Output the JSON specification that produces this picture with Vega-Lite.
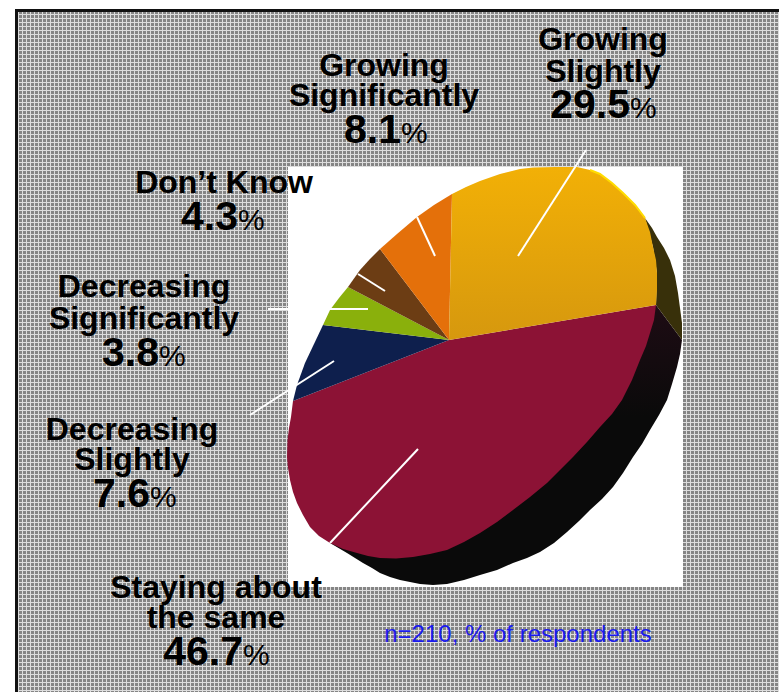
{
"$schema":"https://vega.github.io/schema/vega-lite/v6.json",
"width":779,"height":692,"padding":0,"autosize":{"type":"none"},
"background":"#ffffff",
"view":{"fill":"#858585","stroke":null},
"datasets":{
"columns":[18.5,22.5,26.5,30.5,34.5,38.5,42.5,46.5,50.5,54.5,58.5,62.5,66.5,70.5,74.5,78.5,82.5,86.5,90.5,94.5,98.5,102.5,106.5,110.5,114.5,118.5,122.5,126.5,130.5,134.5,138.5,142.5,146.5,150.5,154.5,158.5,162.5,166.5,170.5,174.5,178.5,182.5,186.5,190.5,194.5,198.5,202.5,206.5,210.5,214.5,218.5,222.5,226.5,230.5,234.5,238.5,242.5,246.5,250.5,254.5,258.5,262.5,266.5,270.5,274.5,278.5,282.5,286.5,290.5,294.5,298.5,302.5,306.5,310.5,314.5,318.5,322.5,326.5,330.5,334.5,338.5,342.5,346.5,350.5,354.5,358.5,362.5,366.5,370.5,374.5,378.5,382.5,386.5,390.5,394.5,398.5,402.5,406.5,410.5,414.5,418.5,422.5,426.5,430.5,434.5,438.5,442.5,446.5,450.5,454.5,458.5,462.5,466.5,470.5,474.5,478.5,482.5,486.5,490.5,494.5,498.5,502.5,506.5,510.5,514.5,518.5,522.5,526.5,530.5,534.5,538.5,542.5,546.5,550.5,554.5,558.5,562.5,566.5,570.5,574.5,578.5,582.5,586.5,590.5,594.5,598.5,602.5,606.5,610.5,614.5,618.5,622.5,626.5,630.5,634.5,638.5,642.5,646.5,650.5,654.5,658.5,662.5,666.5,670.5,674.5,678.5,682.5,686.5,690.5,694.5,698.5,702.5,706.5,710.5,714.5,718.5,722.5,726.5,730.5,734.5,738.5,742.5,746.5,750.5,754.5,758.5,762.5,766.5,770.5,774.5,778.5],
"rows":[14.5,18.5,22.5,26.5,30.5,34.5,38.5,42.5,46.5,50.5,54.5,58.5,62.5,66.5,70.5,74.5,78.5,82.5,86.5,90.5,94.5,98.5,102.5,106.5,110.5,114.5,118.5,122.5,126.5,130.5,134.5,138.5,142.5,146.5,150.5,154.5,158.5,162.5,166.5,170.5,174.5,178.5,182.5,186.5,190.5,194.5,198.5,202.5,206.5,210.5,214.5,218.5,222.5,226.5,230.5,234.5,238.5,242.5,246.5,250.5,254.5,258.5,262.5,266.5,270.5,274.5,278.5,282.5,286.5,290.5,294.5,298.5,302.5,306.5,310.5,314.5,318.5,322.5,326.5,330.5,334.5,338.5,342.5,346.5,350.5,354.5,358.5,362.5,366.5,370.5,374.5,378.5,382.5,386.5,390.5,394.5,398.5,402.5,406.5,410.5,414.5,418.5,422.5,426.5,430.5,434.5,438.5,442.5,446.5,450.5,454.5,458.5,462.5,466.5,470.5,474.5,478.5,482.5,486.5,490.5,494.5,498.5,502.5,506.5,510.5,514.5,518.5,522.5,526.5,530.5,534.5,538.5,542.5,546.5,550.5,554.5,558.5,562.5,566.5,570.5,574.5,578.5,582.5,586.5,590.5,594.5,598.5,602.5,606.5,610.5,614.5,618.5,622.5,626.5,630.5,634.5,638.5,642.5,646.5,650.5,654.5,658.5,662.5,666.5,670.5,674.5,678.5,682.5,686.5,690.5],
"whites":[
{"name":"margin-left","x":0,"x2":15,"y":0,"y2":692},
{"name":"margin-top","x":0,"x2":779,"y":0,"y2":9},
{"name":"plot-card","x":288,"x2":683,"y":167,"y2":587}
],
"frame":[
{"name":"frame-left","x":15,"x2":18,"y":9,"y2":692},
{"name":"frame-top","x":15,"x2":779,"y":9,"y2":12}
],
"rim":{"type":"FeatureCollection","features":[
{"type":"Feature","properties":{"part":"lower rim"},"geometry":{"type":"Polygon","coordinates":[[[656,305],[682,340],[680,354],[677,367],[672,384],[667,400],[659,415],[650,430],[642,444],[633,457],[623,473],[613,487],[602,499],[590,510],[579,521],[567,532],[554,543],[540,552],[527,558],[513,563],[497,570],[480,575],[464,580],[447,584],[433,585],[420,584],[410,582],[400,580],[390,577],[380,573],[372,568],[363,563],[347,553],[330,543],[400,500],[656,305]]]}}
]},
"slices":{"type":"FeatureCollection","features":[
{"type":"Feature","properties":{"label":"upper rim"},"geometry":{"type":"Polygon","coordinates":[[[645,218],[652,228],[657,237],[664,248],[670,260],[675,276],[678,293],[680,308],[682,323],[682,340],[656,305],[657,273],[653,247],[645,218]]]}},
{"type":"Feature","properties":{"label":"Staying about the same","share":46.7},"geometry":{"type":"Polygon","coordinates":[[[449,340],[656,305],[654,320],[650,333],[646,346],[640,360],[632,380],[622,400],[612,414],[600,427],[587,442],[573,457],[560,470],[547,483],[530,497],[513,510],[497,522],[480,533],[464,542],[447,550],[430,554],[413,557],[396,558.5],[380,558],[368,556],[357,553],[343,549],[330,543],[319,536],[310,527],[303,515],[297,503],[293,492],[290,480],[288,468],[287,457],[287.5,440],[289,428],[291,417],[293,401],[449,340]]]}},
{"type":"Feature","properties":{"label":"Decreasing Slightly","share":7.6},"geometry":{"type":"Polygon","coordinates":[[[449,340],[293,401],[297,385],[301,374],[305,363],[314,344],[323,325],[449,340]]]}},
{"type":"Feature","properties":{"label":"Decreasing Significantly","share":3.8},"geometry":{"type":"Polygon","coordinates":[[[449,340],[323,325],[330,310],[339,298],[348,287],[449,340]]]}},
{"type":"Feature","properties":{"label":"Don't Know","share":4.3},"geometry":{"type":"Polygon","coordinates":[[[449,340],[348,287],[360,270],[370,259],[380,249],[449,340]]]}},
{"type":"Feature","properties":{"label":"Growing Significantly","share":8.1},"geometry":{"type":"Polygon","coordinates":[[[449,340],[380,249],[397,234],[417,217],[434,205],[452,194],[449,340]]]}}
]},
"growing":{"type":"FeatureCollection","features":[
{"type":"Feature","properties":{"label":"Growing Slightly","share":29.5},"geometry":{"type":"Polygon","coordinates":[[[449,340],[452,194],[466,187],[480,181],[500,174],[520,169],[533,167.5],[555,167],[577,167],[590,170],[600,174],[612,183],[623,193],[635,205],[645,218],[650,232],[653,247],[656,260],[657,273],[657,290],[656,305],[449,340]]]}}
]},
"sheen":{"type":"FeatureCollection","features":[
{"type":"Feature","properties":{"part":"lit edge"},"geometry":{"type":"LineString","coordinates":[[590,170],[600,174],[612,183],[623,193],[635,205],[645,218]]}}
]},
"leaders":[
{"slice":"Growing Slightly","x":518,"y":256,"x2":586,"y2":150},
{"slice":"Growing Significantly","x":435,"y":256,"x2":417,"y2":217},
{"slice":"Don't Know","x":385,"y":291,"x2":358,"y2":274},
{"slice":"Decreasing Significantly","x":368,"y":309,"x2":268,"y2":309},
{"slice":"Decreasing Slightly","x":334,"y":361,"x2":250,"y2":415},
{"slice":"Staying about the same","x":418,"y":449,"x2":330,"y2":543}
],
"names":[
{"line":"Growing","x":603,"y":50},
{"line":"Slightly","x":603,"y":82},
{"line":"Growing","x":384,"y":76},
{"line":"Significantly","x":384,"y":106},
{"line":"Don’t Know","x":224,"y":193},
{"line":"Decreasing","x":144,"y":297},
{"line":"Significantly","x":144,"y":329},
{"line":"Decreasing","x":132,"y":440},
{"line":"Slightly","x":132,"y":470},
{"line":"Staying about","x":216,"y":598},
{"line":"the same","x":216,"y":628}
],
"shares":[
{"share":"29.5","x":630,"y":118},
{"share":"8.1","x":401,"y":143},
{"share":"4.3","x":238,"y":230},
{"share":"3.8","x":159,"y":366},
{"share":"7.6","x":150,"y":507},
{"share":"46.7","x":243,"y":665}
],
"note":[{"text":"n=210, % of respondents","x":518,"y":642}]
},
"layer":[
{"data":{"name":"columns"},"mark":{"type":"rule","color":"#dddddd","strokeWidth":1},
"encoding":{"x":{"field":"data","type":"quantitative","axis":null,"scale":{"domain":[0,779],"nice":false,"zero":false}}}},
{"data":{"name":"rows"},"mark":{"type":"rule","color":"#dddddd","strokeWidth":1},
"encoding":{"y":{"field":"data","type":"quantitative","axis":null,"scale":{"domain":[0,692],"nice":false,"zero":false,"reverse":true}}}},
{"data":{"name":"whites"},"mark":{"type":"rect","color":"#ffffff"},
"encoding":{"x":{"field":"x","type":"quantitative","axis":null},"x2":{"field":"x2"},"y":{"field":"y","type":"quantitative","axis":null},"y2":{"field":"y2"}}},
{"data":{"name":"frame"},"mark":{"type":"rect","color":"#111111"},
"encoding":{"x":{"field":"x","type":"quantitative","axis":null},"x2":{"field":"x2"},"y":{"field":"y","type":"quantitative","axis":null},"y2":{"field":"y2"}}},
{"data":{"name":"rim","format":{"type":"json","property":"features"}},
"mark":{"type":"geoshape","strokeWidth":0,"fill":{"x1":0,"y1":0,"x2":0,"y2":1,"gradient":"linear","stops":[{"offset":0,"color":"#1e0c14"},{"offset":0.4,"color":"#0a0a0a"},{"offset":1,"color":"#0a0a0a"}]}},
"projection":{"type":"identity","scale":1,"translate":[0,0]}},
{"data":{"name":"slices","format":{"type":"json","property":"features"}},
"mark":{"type":"geoshape","strokeWidth":0},
"projection":{"type":"identity","scale":1,"translate":[0,0]},
"encoding":{"color":{"field":"properties.label","type":"nominal","legend":null,
"scale":{"domain":["upper rim","Staying about the same","Decreasing Slightly","Decreasing Significantly","Don't Know","Growing Significantly"],
"range":["#38300a","#8c1235","#0e1f4d","#8ab00c","#6c3d14","#e4700a"]}}}},
{"data":{"name":"growing","format":{"type":"json","property":"features"}},
"mark":{"type":"geoshape","strokeWidth":0,"fill":{"x1":0,"y1":0,"x2":0,"y2":1,"gradient":"linear","stops":[{"offset":0,"color":"#f2b006"},{"offset":1,"color":"#d6980e"}]}},
"projection":{"type":"identity","scale":1,"translate":[0,0]}},
{"data":{"name":"sheen","format":{"type":"json","property":"features"}},
"mark":{"type":"geoshape","filled":false,"stroke":"#ffdc00","strokeWidth":2},
"projection":{"type":"identity","scale":1,"translate":[0,0]}},
{"data":{"name":"leaders"},"mark":{"type":"rule","color":"#ffffff","strokeWidth":2},
"encoding":{"x":{"field":"x","type":"quantitative","axis":null},"y":{"field":"y","type":"quantitative","axis":null},"x2":{"field":"x2"},"y2":{"field":"y2"}}},
{"data":{"name":"names"},"mark":{"type":"text","font":"Liberation Sans","fontWeight":"bold","fontSize":32,"align":"center","baseline":"alphabetic","color":"#000000"},
"encoding":{"x":{"field":"x","type":"quantitative","axis":null},"y":{"field":"y","type":"quantitative","axis":null},"text":{"field":"line"}}},
{"data":{"name":"shares"},"mark":{"type":"text","font":"Liberation Sans","fontWeight":"bold","fontSize":41,"align":"right","baseline":"alphabetic","color":"#000000"},
"encoding":{"x":{"field":"x","type":"quantitative","axis":null},"y":{"field":"y","type":"quantitative","axis":null},"text":{"field":"share"}}},
{"data":{"name":"shares"},"mark":{"type":"text","font":"Liberation Sans","fontSize":30,"align":"left","baseline":"alphabetic","color":"#000000","text":"%"},
"encoding":{"x":{"field":"x","type":"quantitative","axis":null},"y":{"field":"y","type":"quantitative","axis":null}}},
{"data":{"name":"note"},"mark":{"type":"text","font":"Liberation Sans","fontSize":24,"align":"center","baseline":"alphabetic","color":"#1a1aee"},
"encoding":{"x":{"field":"x","type":"quantitative","axis":null},"y":{"field":"y","type":"quantitative","axis":null},"text":{"field":"text"}}}
]
}
